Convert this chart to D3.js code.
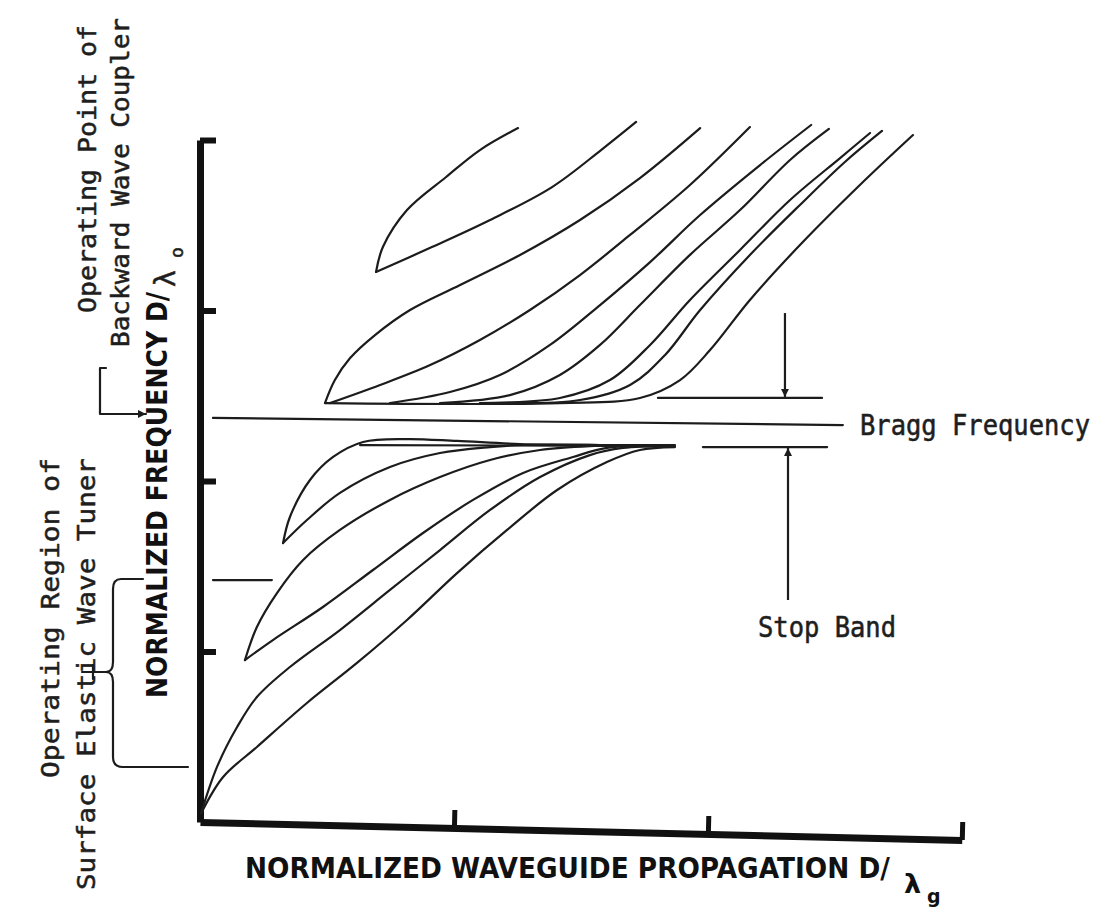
<!DOCTYPE html>
<html>
<head>
<meta charset="utf-8">
<script src="https://cdnjs.cloudflare.com/ajax/libs/d3/7.8.5/d3.min.js"></script>
<style>
  body { margin: 0; background: #fff; }
  .curve { fill: none; stroke: #1c1c1c; stroke-width: 2.2; stroke-linecap: round; stroke-linejoin: round; }
  .mono { font-family: "DejaVu Sans Mono", monospace; fill: #1e1e1e; stroke: #1e1e1e; stroke-width: 0.5; }
  .bold { font-family: "DejaVu Sans", sans-serif; font-weight: bold; fill: #111; }
</style>
</head>
<body>
<script>

// tick positions (no labels on the original figure)
var xTicks = [1, 2, 3];
var yTicks = [1, 2, 3, 4];

// upper mode family (above the Bragg frequency)
var loopAUpper = [[0.693, 3.226], [0.720, 3.372], [0.815, 3.589], [0.969, 3.783], [1.102, 3.941], [1.252, 4.070]];
var loopALower = [[0.693, 3.226], [0.913, 3.372], [1.142, 3.531], [1.386, 3.724], [1.579, 3.941], [1.717, 4.106]];
var curveC = [[0.492, 2.457], [0.531, 2.592], [0.591, 2.721], [0.689, 2.856], [0.827, 3.003], [1.024, 3.150], [1.260, 3.326], [1.496, 3.531], [1.732, 3.777], [1.969, 4.070]];
var curveD = [[0.512, 2.457], [0.709, 2.563], [0.906, 2.680], [1.102, 2.827], [1.299, 3.003], [1.496, 3.208], [1.693, 3.443], [1.929, 3.736], [2.165, 4.076]];
var curveE = [[0.748, 2.457], [0.984, 2.522], [1.181, 2.622], [1.378, 2.798], [1.575, 3.032], [1.772, 3.284], [1.969, 3.560], [2.205, 3.853], [2.406, 4.088]];
var curveF = [[0.945, 2.457], [1.220, 2.504], [1.417, 2.622], [1.575, 2.798], [1.732, 3.032], [1.929, 3.326], [2.126, 3.589], [2.323, 3.883], [2.476, 4.065]];
var curveG = [[1.102, 2.457], [1.417, 2.487], [1.614, 2.592], [1.772, 2.798], [1.929, 3.062], [2.126, 3.355], [2.323, 3.648], [2.520, 3.894], [2.638, 4.041]];
var curveH = [[1.181, 2.457], [1.496, 2.475], [1.693, 2.563], [1.831, 2.739], [1.969, 3.003], [2.165, 3.326], [2.362, 3.619], [2.539, 3.871], [2.685, 4.053]];
var curveI = [[0.492, 2.457], [1.417, 2.457], [1.732, 2.487], [1.890, 2.592], [2.008, 2.768], [2.165, 3.062], [2.362, 3.384], [2.598, 3.736], [2.807, 4.029]];

// lower mode family (below the Bragg frequency)
var loopL1Upper = [[0.327, 1.636], [0.354, 1.789], [0.433, 2.006], [0.524, 2.141], [0.642, 2.229], [0.815, 2.246], [1.012, 2.235], [1.260, 2.217], [1.575, 2.211], [1.870, 2.211]];
var loopL1Lower = [[0.327, 1.636], [0.421, 1.771], [0.551, 1.930], [0.748, 2.082], [0.945, 2.164], [1.142, 2.199], [1.272, 2.211], [1.575, 2.211]];
var loopL2Upper = [[0.177, 0.950], [0.224, 1.144], [0.303, 1.343], [0.406, 1.537], [0.551, 1.713], [0.748, 1.889], [0.945, 2.023], [1.142, 2.123], [1.339, 2.182], [1.535, 2.205], [1.772, 2.211]];
var loopL2Lower = [[0.177, 0.950], [0.287, 1.067], [0.484, 1.261], [0.681, 1.478], [0.878, 1.695], [1.075, 1.889], [1.272, 2.047], [1.469, 2.141], [1.602, 2.194], [1.811, 2.205]];
var curveM1 = [[0.004, 0.050], [0.067, 0.323], [0.146, 0.557], [0.224, 0.733], [0.354, 0.909], [0.551, 1.126], [0.748, 1.361], [0.945, 1.595], [1.142, 1.830], [1.339, 2.023], [1.535, 2.152], [1.665, 2.194], [1.850, 2.205]];
var curveM2 = [[0.004, 0.050], [0.091, 0.264], [0.224, 0.440], [0.421, 0.698], [0.618, 0.933], [0.815, 1.185], [1.012, 1.460], [1.209, 1.713], [1.406, 1.947], [1.602, 2.111], [1.732, 2.182], [1.870, 2.199]];

// horizontal reference lines
var braggLine = [[0.051, 2.370], [2.531, 2.328]];
var stopUpper = [[1.803, 2.487], [2.449, 2.487]];
var stopLowerBand = [[0.630, 2.211], [1.870, 2.205]];
var stopLower = [[1.980, 2.199], [2.469, 2.199]];
var tunerMark = [[0.051, 1.419], [0.283, 1.419]];

// stop band arrows [x, from, to]
var arrowDown = [2.303, 2.985, 2.493];
var arrowUp = [2.315, 1.302, 2.194];

var upperCurves = [loopAUpper, loopALower, curveC, curveD, curveE, curveF, curveG, curveH];
var lowerCurves = [loopL1Upper, loopL1Lower, loopL2Upper, loopL2Lower, curveM1, curveM2];

var svgWidth = 1100;
var svgHeight = 911;

var margin = {
    top: 140,
    right: 138,
    bottom: 89,
    left: 200
};

var width = svgWidth - margin.left - margin.right;
var height = svgHeight - margin.top - margin.bottom;

var svg = d3.select("body")
    .append("svg")
    .attr("width", svgWidth)
    .attr("height", svgHeight);

svg.append("defs").append("marker")
    .attr("id", "head")
    .attr("viewBox", "0 0 10 10")
    .attr("refX", 10)
    .attr("refY", 5)
    .attr("markerUnits", "userSpaceOnUse")
    .attr("markerWidth", 18)
    .attr("markerHeight", 8)
    .attr("orient", "auto")
    .append("path")
    .attr("d", "M0,0 L10,5 L0,10 z")
    .attr("fill", "#1c1c1c");

var chartGroup = svg.append("g")
    .attr("transform", `translate(${margin.left}, ${margin.top})`);

var xScale = d3.scaleLinear().domain([0, 3]).range([0, width]);
var yScale = d3.scaleLinear().domain([0, 4]).range([height, 0]);

var line = d3.line()
    .x(d => xScale(d[0]))
    .y(d => yScale(d[1]))
    .curve(d3.curveCatmullRom.alpha(0.5));

var straight = d3.line()
    .x(d => xScale(d[0]))
    .y(d => yScale(d[1]));

// axes: ticks point into the plot
var leftAxis = d3.axisRight(yScale)
    .tickValues(yTicks)
    .tickSizeInner(16)
    .tickSizeOuter(0)
    .tickFormat("");

var bottomAxis = d3.axisTop(xScale)
    .tickValues(xTicks)
    .tickSizeInner(18)
    .tickSizeOuter(0)
    .tickFormat("");

var yAxisG = chartGroup.append("g").call(leftAxis);
yAxisG.select(".domain").attr("stroke", "#111").attr("stroke-width", 7);
yAxisG.selectAll(".tick line").attr("stroke", "#111").attr("stroke-width", 6);

// the scanned x axis runs slightly downhill
var xAxisG = chartGroup.append("g")
    .attr("transform", `translate(0, ${height}) rotate(1.35)`)
    .call(bottomAxis);
xAxisG.select(".domain").attr("stroke", "#111").attr("stroke-width", 7);
xAxisG.selectAll(".tick line").attr("stroke", "#111").attr("stroke-width", 5);

// reference lines
chartGroup.selectAll(".refline")
    .data([braggLine, stopUpper, stopLower, tunerMark])
    .enter()
    .append("path")
    .attr("class", "curve refline")
    .attr("d", straight);

chartGroup.append("path")
    .attr("class", "curve")
    .attr("stroke-width", 4)
    .attr("d", straight(stopLowerBand));

// mode curves
chartGroup.selectAll(".upper")
    .data(upperCurves)
    .enter()
    .append("path")
    .attr("class", "curve upper")
    .attr("d", line);

chartGroup.append("path")
    .attr("class", "curve")
    .attr("stroke-width", 4.2)
    .attr("d", line(curveI));

chartGroup.selectAll(".lower")
    .data(lowerCurves)
    .enter()
    .append("path")
    .attr("class", "curve lower")
    .attr("d", line);

// stop band arrows
[arrowDown, arrowUp].forEach(function (a) {
    chartGroup.append("line")
        .attr("x1", xScale(a[0]))
        .attr("x2", xScale(a[0]))
        .attr("y1", yScale(a[1]))
        .attr("y2", yScale(a[2]))
        .attr("stroke", "#1c1c1c")
        .attr("stroke-width", 2.2)
        .attr("marker-end", "url(#head)");
});

// labels on the right (narrow typewriter face: squeeze wide, stretch tall)
chartGroup.append("text")
    .attr("class", "mono")
    .attr("transform", "translate(660, 295) scale(1, 1.15)")
    .attr("font-size", 25)
    .attr("textLength", 230)
    .attr("lengthAdjust", "spacingAndGlyphs")
    .text("Bragg Frequency");

chartGroup.append("text")
    .attr("class", "mono")
    .attr("transform", "translate(558, 497) scale(1, 1.15)")
    .attr("font-size", 25)
    .attr("textLength", 138)
    .attr("lengthAdjust", "spacingAndGlyphs")
    .text("Stop Band");

// x axis title
svg.append("text")
    .attr("class", "bold")
    .attr("transform", "translate(245, 878) scale(1, 1.12)")
    .attr("font-size", 25)
    .attr("textLength", 645)
    .attr("lengthAdjust", "spacingAndGlyphs")
    .text("NORMALIZED WAVEGUIDE PROPAGATION D/");

svg.append("text")
    .attr("class", "bold")
    .attr("x", 904)
    .attr("y", 893)
    .attr("font-size", 27)
    .text("λ");

svg.append("text")
    .attr("class", "bold")
    .attr("x", 927)
    .attr("y", 903)
    .attr("font-size", 19)
    .text("g");

// y axis title (rotated)
var yTitle = svg.append("g")
    .attr("transform", "translate(157, 698) rotate(-90)");

yTitle.append("text")
    .attr("class", "bold")
    .attr("transform", "translate(0, 10) scale(1, 1.12)")
    .attr("font-size", 25)
    .attr("textLength", 406)
    .attr("lengthAdjust", "spacingAndGlyphs")
    .text("NORMALIZED FREQUENCY D/");

yTitle.append("text")
    .attr("class", "mono")
    .attr("x", 411)
    .attr("y", 18)
    .attr("font-size", 28)
    .text("λ");

yTitle.append("text")
    .attr("class", "mono")
    .attr("x", 440)
    .attr("y", 26)
    .attr("font-size", 18)
    .text("o");

// side notes (rotated)
var notes = [
    { text: "Operating Point of", x: 87, y: 313, len: 288 },
    { text: "Backward Wave Coupler", x: 120, y: 347, len: 329 },
    { text: "Operating Region of", x: 50, y: 778, len: 320 },
    { text: "Surface Elastic Wave Tuner", x: 86, y: 890, len: 432 }
];

notes.forEach(function (n) {
    svg.append("text")
        .attr("class", "mono")
        .attr("transform", `translate(${n.x}, ${n.y}) rotate(-90)`)
        .attr("dy", "0.35em")
        .attr("font-size", 25)
        .attr("textLength", n.len)
        .attr("lengthAdjust", "spacingAndGlyphs")
        .text(n.text);
});

// pointer from the coupler note to the Bragg line
svg.append("path")
    .attr("class", "curve")
    .attr("d", "M106,368 L100,368 L100,414 L146,414")
    .attr("marker-end", "url(#head)");

// curly brace for the tuner region
svg.append("path")
    .attr("class", "curve")
    .attr("d", "M143,579 L121,579 Q113,579 113,589 L113,662 Q113,672 106,672 Q113,672 113,682 L113,757 Q113,767 123,767 L188,767");

svg.append("path")
    .attr("class", "curve")
    .attr("stroke-width", 1.6)
    .attr("d", "M82,672 L106,672 M93,665 L93,679");

</script>
</body>
</html>
